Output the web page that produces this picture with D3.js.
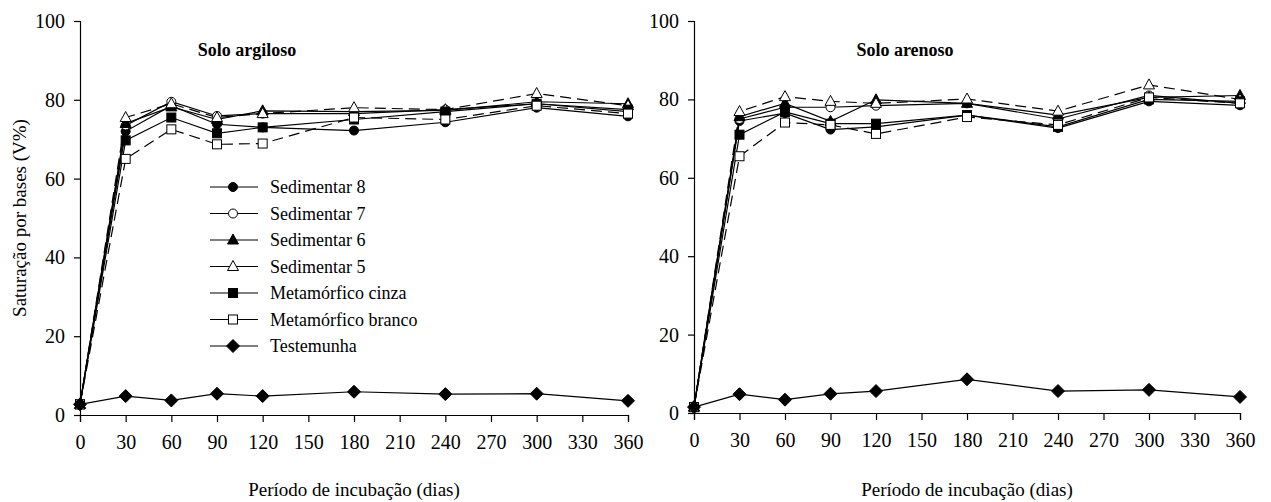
<!DOCTYPE html>
<html><head><meta charset="utf-8">
<script src="https://cdn.jsdelivr.net/npm/d3@7"></script>
<style>body{margin:0;background:#fff}svg{display:block}svg text{fill:#000}</style>
</head><body><svg id="c" width="1271" height="502"></svg>
<script>
const days = [0,30,60,90,120,180,240,300,360];
const xTicks = [0,30,60,90,120,150,180,210,240,270,300,330,360];
const yTicks = [0,20,40,60,80,100];
const seriesNames = ["Sedimentar 8","Sedimentar 7","Sedimentar 6","Sedimentar 5","Metamórfico cinza","Metamórfico branco","Testemunha"];
const markers = ["circleF","circleO","triF","triO","sqF","sqO","diamond"];
const dashes = [null,null,null,"11,6",null,"11,6",null];

// Solo argiloso
const argSed8 = [2.7,72,78.5,73.8,73,72.2,74.3,78,75.8];
const argSed7 = [2.7,73.5,79.5,75.9,76.5,76.5,77.5,79,77];
const argSed6 = [2.7,74,78.2,75,77.2,77,77.3,79.5,79];
const argSed5 = [2.7,75.5,79,75.5,76.5,78,77.5,81.6,78.5];
const argMetC = [2.7,69.7,75.5,71.5,73,75,77,79,77.5];
const argMetB = [2.7,65,72.5,68.7,68.9,75.5,75,78.5,76.5];
const argTest = [2.7,4.8,3.7,5.4,4.8,5.9,5.3,5.4,3.6];
// Solo arenoso
const areSed8 = [1.5,74.5,76.5,72.3,73,76,72.7,79.5,78.5];
const areSed7 = [1.5,75,78,78,78.4,79,75,81,79];
const areSed6 = [1.5,75.6,79,74.4,79.9,79,76,80.5,81];
const areSed5 = [1.5,76.9,80.7,79.5,79,80.1,77,83.7,80];
const areMetC = [1.5,71,76.8,73.8,73.8,76,73,80,79.5];
const areMetB = [1.5,65.5,74.1,73.5,71.2,75.5,73.5,80.5,79];
const areTest = [1.5,4.8,3.4,4.9,5.6,8.6,5.6,5.9,4.1];

const FONT = "Liberation Serif";
const svg = d3.select("#c");

function marker(g, type, x, y){
  const fill = /F$|diamond/.test(type) ? "#000" : "#fff";
  let el;
  if(type.startsWith("circle")) el = g.append("circle").attr("cx",x).attr("cy",y).attr("r",4.5);
  else if(type.startsWith("tri")) el = g.append("path").attr("d",`M${x},${y-6}L${x+5.5},${y+4}L${x-5.5},${y+4}Z`);
  else if(type.startsWith("sq")) el = g.append("rect").attr("x",x-4.5).attr("y",y-4.5).attr("width",9).attr("height",9);
  else el = g.append("path").attr("d",`M${x},${y-6.5}L${x+6.5},${y}L${x},${y+6.5}L${x-6.5},${y}Z`);
  el.attr("fill",fill).attr("stroke","#000").attr("stroke-width",1);
}

function panel(x0,x1,y0,y1,title,titleX,data){
  const x = d3.scaleLinear().domain([0,360]).range([x0,x1]);
  const y = d3.scaleLinear().domain([0,100]).range([y0,y1]);
  const g = svg.append("g");
  const yAx = g.append("g").attr("transform",`translate(${x0},0)`).call(d3.axisLeft(y).tickValues(yTicks).tickSize(6).tickPadding(9));
  const xAx = g.append("g").attr("transform",`translate(0,${y0})`).call(d3.axisBottom(x).tickValues(xTicks).tickSize(7).tickPadding(13));
  [yAx,xAx].forEach(a=>{a.attr("font-family",FONT).attr("font-size",20);
    a.select(".domain").attr("stroke","#000").attr("stroke-width",1.2);
    a.selectAll(".tick line").attr("stroke","#000").attr("stroke-width",1.2);
    a.selectAll("text").attr("fill","#000");});
  g.append("text").attr("x",titleX).attr("y",56).attr("text-anchor","middle").attr("font-family",FONT).attr("font-size",18).attr("font-weight","bold").text(title);
  g.append("text").attr("x",(x0+x1)/2).attr("y",496).attr("text-anchor","middle").attr("font-family",FONT).attr("font-size",19).text("Período de incubação (dias)");
  const line = d3.line().x((d,i)=>x(days[i])).y(d=>y(d));
  data.forEach((vals,k)=>{
    g.append("path").attr("d",line(vals)).attr("fill","none").attr("stroke","#000").attr("stroke-width",1.2)
      .attr("stroke-dasharray",dashes[k]);
  });
  data.forEach((vals,k)=>{
    vals.forEach((v,i)=>marker(g,markers[k],x(days[i]),y(v)));
  });
}

panel(80,628,415,21,"Solo argiloso",247,[argSed8,argSed7,argSed6,argSed5,argMetC,argMetB,argTest]);
panel(694,1240,413,21,"Solo arenoso",905,[areSed8,areSed7,areSed6,areSed5,areMetC,areMetB,areTest]);

svg.append("text").attr("transform","translate(26,218) rotate(-90)").attr("text-anchor","middle").attr("font-family",FONT).attr("font-size",19).text("Saturação por bases (V%)");

const leg = svg.append("g");
seriesNames.forEach((n,k)=>{
  const yy = 187 + k*26.5;
  leg.append("line").attr("x1",210).attr("x2",258).attr("y1",yy).attr("y2",yy).attr("stroke","#000").attr("stroke-width",1.2);
  marker(leg,markers[k],233,yy);
  leg.append("text").attr("x",270).attr("y",yy+6).attr("font-family",FONT).attr("font-size",18).text(n);
});
</script></body></html>
